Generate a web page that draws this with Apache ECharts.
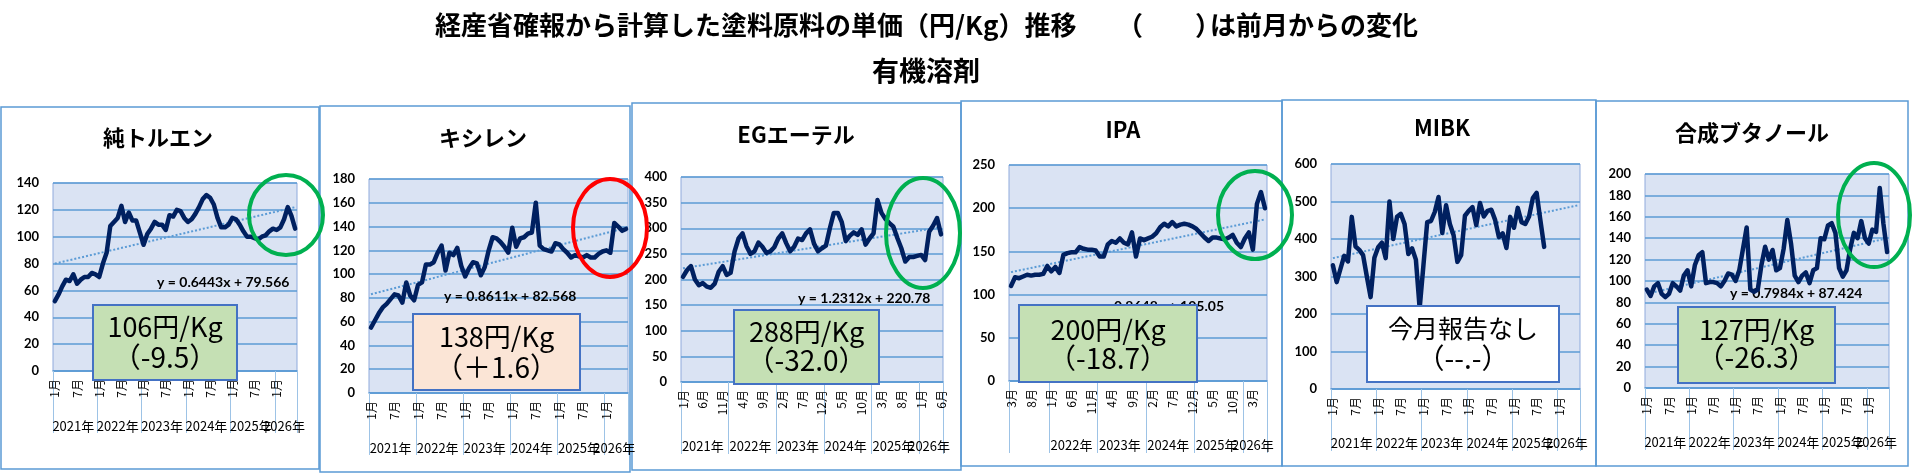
<!DOCTYPE html>
<html>
<head>
<meta charset="utf-8">
<script src="https://cdn.jsdelivr.net/npm/echarts@6/dist/echarts.min.js"></script>
<style>
html, body { margin:0; padding:0; background:#fff; }
#main { width:1912px; height:474px; }
</style>
</head>
<body>
<div id="main"></div>
<script>
// month categories "YYYY-MM"
function monthList(startYear, startMonth, count) {
  var list = [], y = startYear, m = startMonth;
  for (var i = 0; i < count; i++) {
    list.push(y + '-' + (m < 10 ? '0' + m : m));
    m++;
    if (m > 12) { m = 1; y++; }
  }
  return list;
}

var months = monthList(2021, 1, 66);     // 2021/1 - 2026/6
var monthsIPA = monthList(2021, 3, 64);  // 2021/3 - 2026/6

// 単価 (円/Kg)
var toluene = [52,57,63,68,67,72,65,68,70,70, 73,72,70,80,88,108,111,114,123,111,
  118,112,112,103,94,102,106,111,109,109, 105,116,115,120,119,114,111,113,117,122,
  128,131,129,124,114,107,107,109,114,113, 109,104,100,100,99,98,100,101,104,106,
  105,107,113,122,115.5,106];
var xylene = [55,61,67,72,75,79,83,82,76,93, 82,78,91,93,108,108,110,118,124,103,
  118,116,122,107,98,105,110,109,99,106, 120,131,130,127,123,118,139,123,130,131,
  134,135,160,124,121,120,119,126,125,121, 118,114,116,115,114,116,114,114,117,119,
  120,118,143,140,136.4,138];
var egEther = [205,218,226,200,189,193,186,184,192,215, 226,209,213,255,280,290,265,250,255,272,
  264,252,255,263,280,290,271,255,264,280, 277,290,298,270,255,261,266,300,330,330,
  312,275,285,292,287,298,268,280,290,355, 330,318,310,303,281,261,235,244,244,246,
  248,238,293,305,320,288];
var ipa = [110,120,119,121,123,122,123,123,124,133, 127,132,125,146,148,149,149,155,153,152,
  152,151,144,144,158,162,160,165,160,158, 172,144,165,163,165,167,171,178,182,179,
  184,179,181,182,181,179,176,171,166,162, 166,166,165,164,166,169,160,155,165,172,
  152,205,218.7,200];
var mibk = [330,285,320,355,340,459,380,371,357,300, 245,350,378,390,349,500,400,459,467,440,
  360,375,345,215,330,445,448,472,512,416, 490,440,410,339,357,462,475,485,437,496,
  460,475,478,451,405,415,376,459,430,483, 445,440,460,509,523,450,379,
  null,null,null,null,null,null,null,null,null];
var butanol = [92,86,95,98,88,85,88,98,95,91, 105,110,95,115,124,127,98,99,99,98,
  95,100,107,106,100,110,130,150,92,90, 92,115,132,120,129,110,112,130,157,135,
  105,99,105,108,98,110,112,140,139,152, 154,145,112,104,110,130,145,140,156,140,
  135,148,146,187,153.3,127];

// linear trend ends (first, last category)
var trendToluene = [80, 122];
var trendXylene = [83, 139];
var trendEgEther = [222, 302];
var trendIpa = [126, 187];
var trendMibk = [349, 490];
var trendButanol = [88, 140];

// year labels placed at the middle of each year run
function yearLabels(cats, skip) {
  var out = cats.map(function () { return ''; });
  var start = 0;
  for (var i = 1; i <= cats.length; i++) {
    if (i === cats.length || cats[i].slice(0, 4) !== cats[start].slice(0, 4)) {
      var y = cats[start].slice(0, 4);
      if (!skip || skip.indexOf(y) < 0) out[Math.floor((start + i - 1) / 2)] = y + '年';
      start = i;
    }
  }
  return out;
}

var JP = '"Noto Sans CJK JP", sans-serif';
var NUM = 'Lato, "Noto Sans CJK JP", sans-serif';

var panels = [
  { title: '純トルエン', tx: 158, ty: 138, cats: months, data: toluene, trend: trendToluene,
    grid: { left: 53, top: 183, width: 244, height: 188 }, yMax: 140, yStep: 20, every: 5,
    yearOff: 44, tickLen: 62, frame: [1, 107, 318, 362],
    eq: 'y = 0.6443x + 79.566', eqX: 157, eqY: 282, eqAlign: 'left',
    box: { x: 93, y: 305, w: 144, h: 75, fill: '#c5e0b4', l1: '106円/Kg', l2: '（-9.5）', y1: 327, y2: 357 },
    ring: { cx: 286, cy: 215, rx: 37, ry: 40, color: '#00b050' } },
  { title: 'キシレン', tx: 483, ty: 138, cats: months, data: xylene, trend: trendXylene,
    grid: { left: 369, top: 179, width: 259, height: 214 }, yMax: 180, yStep: 20, every: 5,
    yearOff: 44, tickLen: 62, frame: [320, 106, 310, 366],
    eq: 'y = 0.8611x + 82.568', eqX: 444, eqY: 296, eqAlign: 'left',
    box: { x: 413, y: 314, w: 167, h: 76, fill: '#fbe5d6', l1: '138円/Kg', l2: '（＋1.6）', y1: 337, y2: 367 },
    ring: { cx: 610, cy: 228, rx: 37, ry: 49, color: '#ff0000' } },
  { title: 'EGエーテル', tx: 796, ty: 135, cats: months, data: egEther, trend: trendEgEther,
    grid: { left: 681, top: 177, width: 262, height: 205 }, yMax: 400, yStep: 50, every: 4,
    yearOff: 53, tickLen: 72, frame: [632, 103, 329, 367],
    eq: 'y = 1.2312x + 220.78', eqX: 798, eqY: 298, eqAlign: 'left',
    box: { x: 734, y: 310, w: 145, h: 74, fill: '#c5e0b4', l1: '288円/Kg', l2: '（-32.0）', y1: 332, y2: 360 },
    ring: { cx: 923, cy: 233, rx: 37, ry: 55, color: '#00b050' } },
  { title: 'IPA', tx: 1123, ty: 130, cats: monthsIPA, data: ipa, trend: trendIpa, skipYears: ['2021'],
    grid: { left: 1009, top: 165, width: 258, height: 216 }, yMax: 250, yStep: 50, every: 4,
    yearOff: 53, tickLen: 72, frame: [961, 101, 321, 365],
    eq: 'y = 0.8648x + 105.05', eqX: 1224, eqY: 306, eqAlign: 'right',
    box: { x: 1019, y: 305, w: 178, h: 77, fill: '#c5e0b4', l1: '200円/Kg', l2: '（-18.7）', y1: 330, y2: 358 },
    ring: { cx: 1255, cy: 215, rx: 37, ry: 44, color: '#00b050' } },
  { title: 'MIBK', tx: 1442, ty: 128, cats: months, data: mibk, trend: trendMibk,
    grid: { left: 1331, top: 164, width: 249, height: 225 }, yMax: 600, yStep: 100, every: 5,
    yearOff: 43, tickLen: 62, frame: [1282, 100, 314, 366],
    box: { x: 1367, y: 306, w: 192, h: 76, fill: '#ffffff', l1: '今月報告なし', l2: '（--.-）', y1: 328, y2: 358, size: 25 } },
  { title: '合成ブタノール', tx: 1752, ty: 133, cats: months, data: butanol, trend: trendButanol,
    grid: { left: 1645, top: 174, width: 244, height: 214 }, yMax: 200, yStep: 20, every: 5,
    yearOff: 43, tickLen: 62, frame: [1596, 101, 312, 365],
    eq: 'y = 0.7984x + 87.424', eqX: 1730, eqY: 293, eqAlign: 'left',
    box: { x: 1678, y: 307, w: 157, h: 76, fill: '#c5e0b4', l1: '127円/Kg', l2: '（-26.3）', y1: 330, y2: 357 },
    ring: { cx: 1874, cy: 215, rx: 36, ry: 52, color: '#00b050' } }
];

function txt(x, y, text, font, align, z) {
  return { type: 'text', x: x, y: y, z: z || 1, silent: true,
    style: { text: text, font: font, fill: '#000', align: align || 'center', textAlign: align || 'center',
      verticalAlign: 'middle', textVerticalAlign: 'middle' } };
}

var TITLE_FONT = 'bold 26px ' + JP;
var grids = [], xAxes = [], yAxes = [], series = [];
var elements = [
  txt(435, 25, '経産省確報から計算した塗料原料の単価（円/Kg）推移', TITLE_FONT, 'left'),
  txt(1130, 25, '（', TITLE_FONT, 'center'),
  txt(1208, 25, '）', TITLE_FONT, 'center'),
  txt(1418, 25, 'は前月からの変化', TITLE_FONT, 'right'),
  txt(926, 71, '有機溶剤', 'bold 27px ' + JP)
];

panels.forEach(function (p, k) {
  var cats = p.cats;
  grids.push({ left: p.grid.left, top: p.grid.top, width: p.grid.width, height: p.grid.height,
    show: true, backgroundColor: '#dae3f3', borderColor: '#8faadc', borderWidth: 1, outerBoundsMode: 'none' });
  xAxes.push({
    type: 'category', gridIndex: k, data: cats, boundaryGap: true,
    axisLine: { show: true, lineStyle: { color: '#5b9bd5', width: 1.5 } },
    axisTick: { show: true, length: p.tickLen, interval: function (i) { return i === 0 || cats[i].slice(5) === '01'; },
      lineStyle: { color: '#9dc3e6', width: 1 } },
    axisLabel: { interval: p.every, rotate: 90, margin: 8, hideOverlap: false,
      fontFamily: JP, fontSize: 12, color: '#000',
      formatter: function (v) { return parseInt(v.slice(5), 10) + '月'; } }
  });
  xAxes.push({
    type: 'category', gridIndex: k, data: yearLabels(cats, p.skipYears), position: 'bottom', offset: p.yearOff,
    axisLine: { show: false }, axisTick: { show: false },
    axisLabel: { interval: 0, margin: 5, hideOverlap: false, fontFamily: JP, fontSize: 13, color: '#000' }
  });
  yAxes.push({
    type: 'value', gridIndex: k, min: 0, max: p.yMax, interval: p.yStep,
    axisLine: { show: false }, axisTick: { show: false },
    axisLabel: { margin: 14, fontFamily: NUM, fontWeight: 'bold', fontSize: 13, color: '#000' },
    splitLine: { lineStyle: { color: '#5b9bd5', width: 1.5 } }
  });
  series.push({
    type: 'line', xAxisIndex: k * 2, yAxisIndex: k, symbol: 'none', silent: true, z: 2,
    data: [[cats[0], p.trend[0]], [cats[cats.length - 1], p.trend[1]]],
    lineStyle: { color: '#5b9bd5', width: 2, type: 'dotted' }
  });
  series.push({
    type: 'line', name: p.title, xAxisIndex: k * 2, yAxisIndex: k, symbol: 'none', silent: true, z: 3,
    data: p.data, lineStyle: { color: '#002060', width: 4.5, cap: 'round', join: 'round' }
  });

  elements.push({ type: 'rect', silent: true, z: 0,
    shape: { x: p.frame[0], y: p.frame[1], width: p.frame[2], height: p.frame[3] },
    style: { fill: 'none', stroke: '#5b9bd5', lineWidth: 1.5 } });
  elements.push(txt(p.tx, p.ty, p.title, 'bold 22px ' + JP));
  if (p.eq) elements.push(txt(p.eqX, p.eqY, p.eq, 'bold 14px ' + NUM, p.eqAlign, 1));
  var b = p.box;
  elements.push({ type: 'rect', silent: true, z: 100,
    shape: { x: b.x, y: b.y, width: b.w, height: b.h },
    style: { fill: b.fill, stroke: '#4472c4', lineWidth: 2 } });
  elements.push(txt(b.x + b.w / 2, b.y1, b.l1, (b.size || 27) + 'px ' + JP, 'center', 101));
  elements.push(txt(b.x + b.w / 2, b.y2, b.l2, '28px ' + JP, 'center', 101));
  if (p.ring) {
    elements.push({ type: 'ellipse', silent: true, z: 102,
      shape: { cx: p.ring.cx, cy: p.ring.cy, rx: p.ring.rx, ry: p.ring.ry },
      style: { fill: 'none', stroke: p.ring.color, lineWidth: 4 } });
  }
});

var myChart = echarts.init(document.getElementById('main'));
myChart.setOption({
  animation: false,
  backgroundColor: '#fff',
  grid: grids,
  xAxis: xAxes,
  yAxis: yAxes,
  series: series,
  graphic: { elements: elements }
});
</script>
</body>
</html>
